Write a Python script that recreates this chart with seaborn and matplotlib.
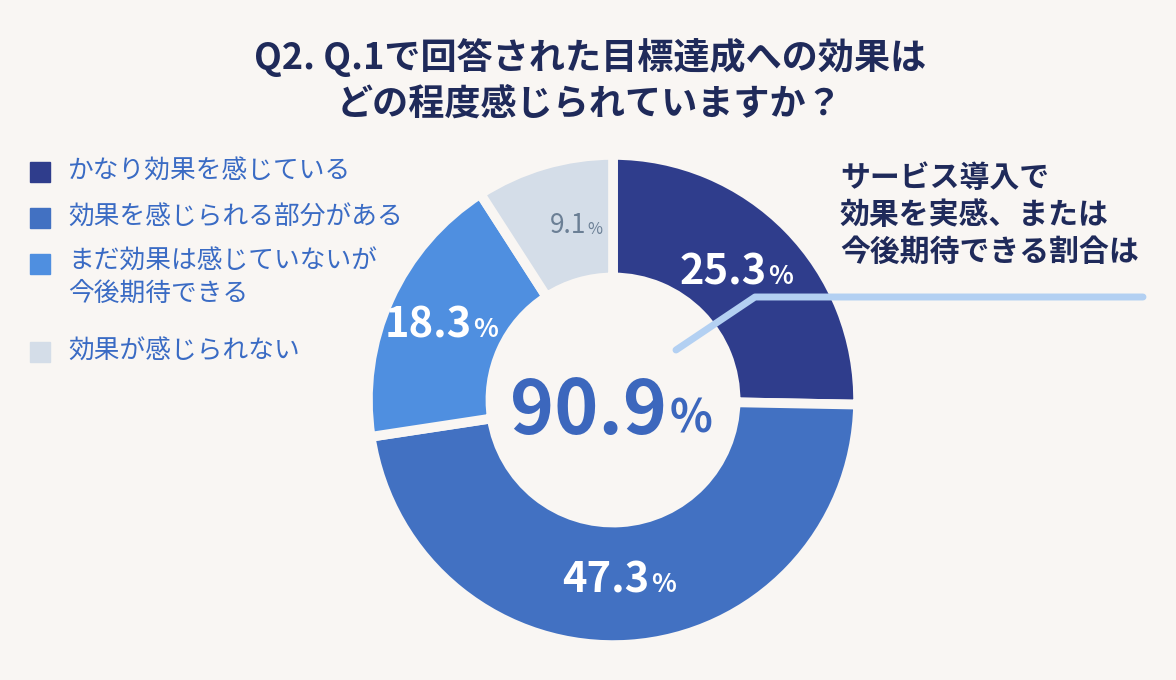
import matplotlib
matplotlib.use("Agg")
import matplotlib.pyplot as plt
import seaborn as sns
import numpy as np

categories = ["かなり効果を感じている", "効果を感じられる部分がある", "まだ効果は感じていないが\n今後期待できる", "効果が感じられない"]
values = [25.3, 47.3, 18.3, 9.1]
label_texts = ["25.3", "47.3", "18.3", "9.1"]
colors = ["#2f3d8c", "#4271c2", "#4f8fe0", "#d4dde8"]
bg = "#f9f6f3"

sns.set_theme(style="white", font="Noto Sans CJK JP")
plt.rcParams["font.family"] = "Noto Sans CJK JP"
fig = plt.figure(figsize=(11.76, 6.8), dpi=100, facecolor=bg)
W, H = 1176, 680
cx, cy, R = 613, 400, 250
ax = fig.add_axes([(cx - R) / W, (H - cy - R) / H, 2 * R / W, 2 * R / H])
ax.set_facecolor(bg)
wedges, _ = ax.pie(values, colors=colors, startangle=90, counterclock=False,
                   wedgeprops=dict(width=0.5, edgecolor=bg, linewidth=7))
ax.set_xlim(-1.02, 1.02); ax.set_ylim(-1.02, 1.02); ax.set_aspect("equal"); ax.axis("off")

start = 90
for v, t, c in zip(values, label_texts, colors):
    mid = np.deg2rad(start - v * 3.6 / 2)
    start -= v * 3.6
    x, y = 0.74 * np.cos(mid), 0.74 * np.sin(mid)
    light = c == "#d4dde8"
    col = "#6b7f95" if light else "white"
    big = 19 if light else 30
    fw = "normal" if light else "bold"
    ax.text(x + 0.1, y, t, ha="right", va="center", fontsize=big, fontweight=fw, color=col)
    ax.text(x + 0.105, y - 0.015, "%", ha="left", va="center", fontsize=big * 0.62, fontweight=fw, color=col)

ax.text(0.22, -0.05, "90.9", ha="right", va="center", fontsize=54, fontweight="bold", color="#3c67bd")
ax.text(0.23, -0.08, "%", ha="left", va="center", fontsize=32, fontweight="bold", color="#3c67bd")

fig.text(590 / W, 1 - 80 / H, "Q2. Q.1で回答された目標達成への効果は\nどの程度感じられていますか？", ha="center", va="center",
         fontsize=26, fontweight="bold", color="#1f2a5a", linespacing=1.3)

rows = [172, 218, 264, 352]
for cat, c, y in zip(categories, colors, rows):
    fig.patches.append(plt.Rectangle((30 / W, 1 - (y + 10) / H), 20 / W, 20 / H, transform=fig.transFigure, color=c))
    multi = "\n" in cat
    fig.text(68 / W, 1 - (249 if multi else y) / H, cat, ha="left", va="top" if multi else "center", fontsize=18.5,
             color="#3a6bc4", linespacing=1.3, transform=fig.transFigure)

fig.text(840 / W, 1 - 215 / H, "サービス導入で\n効果を実感、または\n今後期待できる割合は", ha="left", va="center",
         fontsize=21.5, fontweight="bold", color="#1f2a5a", linespacing=1.3)
fig.add_artist(plt.Line2D([676 / W, 755 / W, 1143 / W], [1 - 350 / H, 1 - 297 / H, 1 - 297 / H],
                          color="#b3d0f2", linewidth=5, transform=fig.transFigure))
fig.savefig("out.png", dpi=100, facecolor=bg)
